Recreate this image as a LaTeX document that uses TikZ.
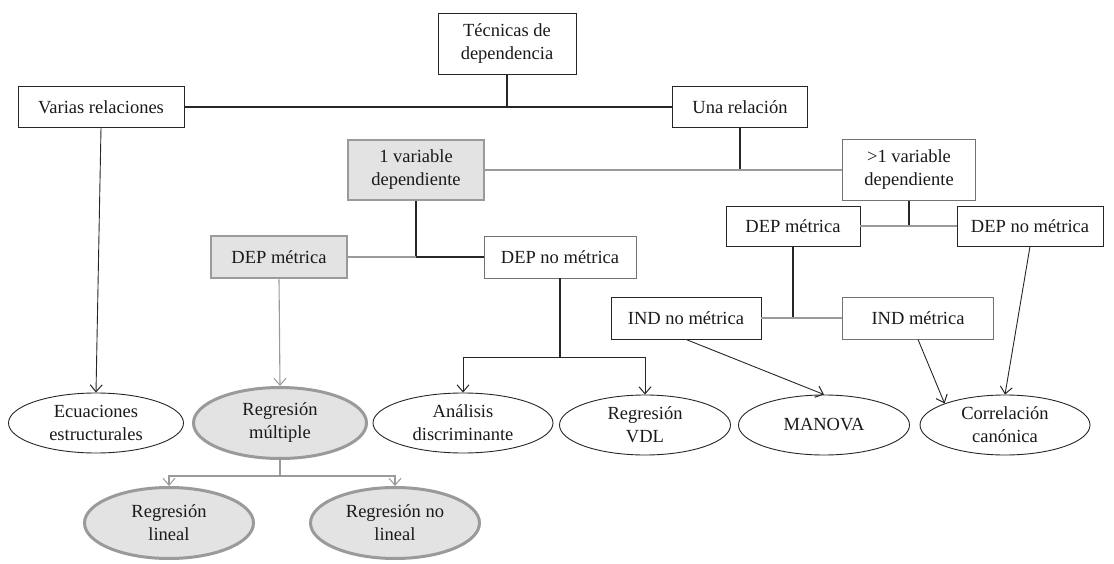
\documentclass[tikz,border=0pt]{standalone}
\usepackage{fontspec}
\setmainfont{Liberation Serif}
\usetikzlibrary{shapes.geometric,arrows.meta}
\definecolor{gfill}{HTML}{E3E3E3}
\definecolor{gline}{HTML}{9A9A9A}
\definecolor{txt}{HTML}{1A1A1A}
\tikzset{
  base/.style={font=\fontsize{18.5}{23}\selectfont, text=txt, align=center, inner sep=0pt},
  box/.style={base, draw=black!85, line width=0.9pt, rectangle},
  lbox/.style={base, draw=black!55, line width=0.9pt, rectangle},
  gbox/.style={base, draw=gline, fill=gfill, line width=2.6pt, rectangle},
  ell/.style={base, draw=black!85, line width=0.9pt, ellipse},
  gell/.style={base, draw=gline, fill=gfill, line width=3pt, ellipse},
  conn/.style={draw=black!85, line width=1.1pt},
  gconn/.style={draw=gline, line width=1.1pt},
  tip/.style={-{Straight Barb[length=7pt,width=12pt,line width=1pt]}},
  arr/.style={conn, tip, line width=0.9pt},
  garr/.style={gconn, tip},
}
\begin{document}
\begin{tikzpicture}[x=1pt,y=-1pt]
\useasboundingbox (0,0) rectangle (1114,564);
% boxes
\node[box, minimum width=138, minimum height=61] (tec) at (507,44) {Técnicas de\\dependencia};
\node[box, minimum width=166, minimum height=41] (var) at (101,107) {Varias relaciones};
\node[box, minimum width=135, minimum height=41] (una) at (740,107) {Una relación};
\node[gbox, minimum width=136, minimum height=60] (onev) at (416,170) {1 variable\\dependiente};
\node[lbox, minimum width=133, minimum height=61] (morev) at (909,170) {>1 variable\\dependiente};
\node[gbox, minimum width=136, minimum height=42] (depm) at (279,257) {DEP métrica};
\node[lbox, minimum width=152, minimum height=42] (depnm) at (560,257) {DEP no métrica};
\node[box, minimum width=134, minimum height=40] (depm2) at (793,226) {DEP métrica};
\node[box, minimum width=146, minimum height=40] (depnm2) at (1030,226) {DEP no métrica};
\node[box, minimum width=150, minimum height=42] (indnm) at (686,318) {IND no métrica};
\node[lbox, minimum width=151, minimum height=42] (indm) at (918,318) {IND métrica};
% ellipses
\node[ell, minimum width=175, minimum height=60] (ecu) at (96,423) {Ecuaciones\\estructurales};
\node[gell, minimum width=173, minimum height=71] (regm) at (280,423) {Regresión\\múltiple};
\node[ell, minimum width=180, minimum height=60] (anal) at (463,423) {Análisis\\discriminante};
\node[ell, minimum width=171, minimum height=60] (vdl) at (645,425) {Regresión\\VDL};
\node[ell, minimum width=171, minimum height=60] (man) at (824,425) {MANOVA};
\node[ell, minimum width=170, minimum height=60] (corr) at (1005,425) {Correlación\\canónica};
\node[gell, minimum width=169, minimum height=71] (rlin) at (169,523) {Regresión\\lineal};
\node[gell, minimum width=169, minimum height=71] (rnl) at (395,523) {Regresión no\\lineal};
% junctions
\coordinate (j1) at (tec.south |- var.east);
\coordinate (j2) at (una.south |- onev.east);
\coordinate (j3) at (onev.south |- depm.east);
\coordinate (j4) at (560,357);
\coordinate (j5) at (morev.south |- depm2.east);
\coordinate (j6) at (depm2.south |- indnm.east);
\coordinate (j7) at (280,476);
% connectors
\draw[conn] (tec.south) -- (j1);
\draw[conn] (var.east) -- (una.west);
\draw[conn] (una.south) -- (j2);
\draw[gconn] (onev.east) -- (morev.west);
\draw[conn] (onev.south) -- (j3);
\draw[gconn] (depm.east) -- (j3);
\draw[conn] (j3) -- (depnm.west);
\draw[arr] (var.south) -- (ecu.north);
\draw[garr] (depm.south) -- (regm.north);
\draw[conn] (depnm.south) -- (j4);
\draw[arr] (j4) -| (anal.north);
\draw[arr] (j4) -| (vdl.north);
\draw[conn] (morev.south) -- (j5);
\draw[gconn] (depm2.east) -- (depnm2.west);
\draw[conn] (depm2.south) -- (j6);
\draw[gconn] (indnm.east) -- (indm.west);
\draw[arr] (indnm.south) -- (man.north);
\draw[arr] (indm.south) -- (corr.north west);
\draw[arr] (depnm2.south) -- (corr.north);
\draw[gconn] (regm.south) -- (j7);
\draw[garr] (j7) -| (rlin.north);
\draw[garr] (j7) -| (rnl.north);
\end{tikzpicture}
\end{document}
